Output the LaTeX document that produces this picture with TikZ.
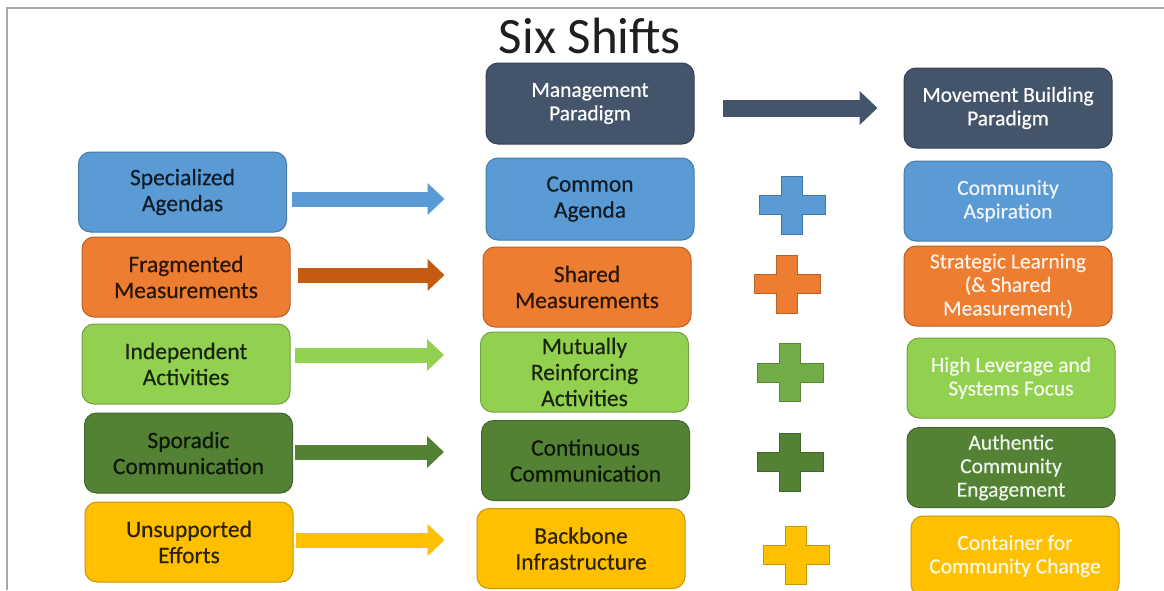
\documentclass[tikz,border=0pt]{standalone}
\usepackage{fontspec}
\setmainfont{Carlito}
\newfontfamily\boxfont{Carlito}[FakeBold=0.45]
\usetikzlibrary{arrows.meta}

\definecolor{cSlate}{HTML}{44546A}
\definecolor{cBlue}{HTML}{5B9BD5}
\definecolor{cOrange}{HTML}{ED7D31}
\definecolor{cOrangeDk}{HTML}{C55A11}
\definecolor{cLime}{HTML}{92D050}
\definecolor{cGreen}{HTML}{70AD47}
\definecolor{cForest}{HTML}{548235}
\definecolor{cGold}{HTML}{FFC000}
\definecolor{cFrame}{HTML}{A8A8A8}

\tikzset{
  box/.style={rectangle, rounded corners=12pt, minimum width=208pt,
    minimum height=80pt, align=center, line width=1pt, inner sep=1pt},
  was/.style={box, fill=#1, draw=#1!78!black, text=black!82!#1,
    font=\boxfont\fontsize{23.5}{26}\selectfont},
  aim/.style={box, fill=#1, draw=#1!78!black, text=white!90!#1,
    font=\boxfont\fontsize{21.5}{23.5}\selectfont},
  shiftarrow/.style={draw=#1, line width=15pt,
    -{Triangle[length=17pt,width=31pt]}},
  plusmark/.pic={
    \path[pic actions] (-33,-9.5) -- (-10.5,-9.5) -- (-10.5,-29) -- (10.5,-29)
      -- (10.5,-9.5) -- (33,-9.5) -- (33,9.5) -- (10.5,9.5) -- (10.5,29)
      -- (-10.5,29) -- (-10.5,9.5) -- (-33,9.5) -- cycle;
  },
  plusstyle/.style={fill=#1, draw=#1!78!black, line width=0.8pt}
}

\begin{document}
\begin{tikzpicture}[x=1pt, y=-1pt]
  \clip (0,0) rectangle (1164,590);
  \fill[white] (0,0) rectangle (1164,590);
  % slide frame
  \draw[cFrame, line width=1.2pt] (7,590) -- (7,8) -- (1164,8);

  % title
  \node[anchor=base, inner sep=0pt, font=\fontsize{51}{56}\selectfont,
        text=black!88] (title) at (590,53) {Six Shifts};

  % paradigm row
  \node[aim=cSlate, text=white, minimum height=81pt] (M0) at (590,103.5)
    {Management\\Paradigm};
  \node[aim=cSlate, text=white] (R0) at (1008,108)
    {Movement Building\\Paradigm};

  % left column: the old ways
  \node[was=cBlue]   (L1) at (182.5,192) {Specialized\\Agendas};
  \node[was=cOrange] (L2) at (186,277)   {Fragmented\\Measurements};
  \node[was=cLime]   (L3) at (186,364)   {Independent\\Activities};
  \node[was=cForest] (L4) at (188.5,453) {Sporadic\\Communication};
  \node[was=cGold]   (L5) at (189,542)   {Unsupported\\Efforts};

  % middle column: collective impact conditions
  \node[was=cBlue, minimum height=82pt] (M1) at (590,199) {Common\\Agenda};
  \node[was=cOrange] (M2) at (587,287)   {Shared\\Measurements};
  \node[was=cLime]   (M3) at (584.5,372) {Mutually\\Reinforcing\\Activities};
  \node[was=cForest] (M4) at (585.5,460.5) {Continuous\\Communication};
  \node[was=cGold]   (M5) at (581,548.5) {Backbone\\Infrastructure};

  % right column: movement building additions
  \node[aim=cBlue]   (R1) at (1008,201)   {Community\\Aspiration};
  \node[aim=cOrange] (R2) at (1008,286)   {Strategic Learning\\(\& Shared\\Measurement)};
  \node[aim=cLime]   (R3) at (1011,378)   {High Leverage and\\Systems Focus};
  \node[aim=cForest] (R4) at (1011,467.5) {Authentic\\Community\\Engagement};
  \node[aim=cGold]   (R5) at (1015,556)   {Container for\\Community Change};

  % arrow heights
  \coordinate (y0) at (0,108);
  \coordinate (y1) at (0,199);
  \coordinate (y2) at (0,275);
  \coordinate (y3) at (0,355);
  \coordinate (y4) at (0,452);
  \coordinate (y5) at (0,540);

  % shift arrows
  \draw[shiftarrow=cSlate, line width=17pt, -{Triangle[length=18pt,width=33pt]},
        shorten <=28pt, shorten >=26pt] (M0.east |- y0) -- (R0.west |- y0);
  \draw[shiftarrow=cBlue, shorten <=5pt, shorten >=41pt]
    (L1.east |- y1) -- (M1.west |- y1);
  \draw[shiftarrow=cOrangeDk, shorten <=7pt, shorten >=38pt]
    (L2.east |- y2) -- (M2.west |- y2);
  \draw[shiftarrow=cLime, shorten <=4pt, shorten >=36pt]
    (L3.east |- y3) -- (M3.west |- y3);
  \draw[shiftarrow=cForest, shorten <=2pt, shorten >=37pt]
    (L4.east |- y4) -- (M4.west |- y4);
  \draw[shiftarrow=cGold, shorten <=2pt, shorten >=32pt]
    (L5.east |- y5) -- (M5.west |- y5);

  % plus signs
  \pic[plusstyle=cBlue]   (P1) at (792,205)   {plusmark};
  \pic[plusstyle=cOrange] (P2) at (787,284)   {plusmark};
  \pic[plusstyle=cGreen]  (P3) at (790,372.5) {plusmark};
  \pic[plusstyle=cForest] (P4) at (790,462)   {plusmark};
  \pic[plusstyle=cGold]   (P5) at (796,555)   {plusmark};
\end{tikzpicture}
\end{document}
